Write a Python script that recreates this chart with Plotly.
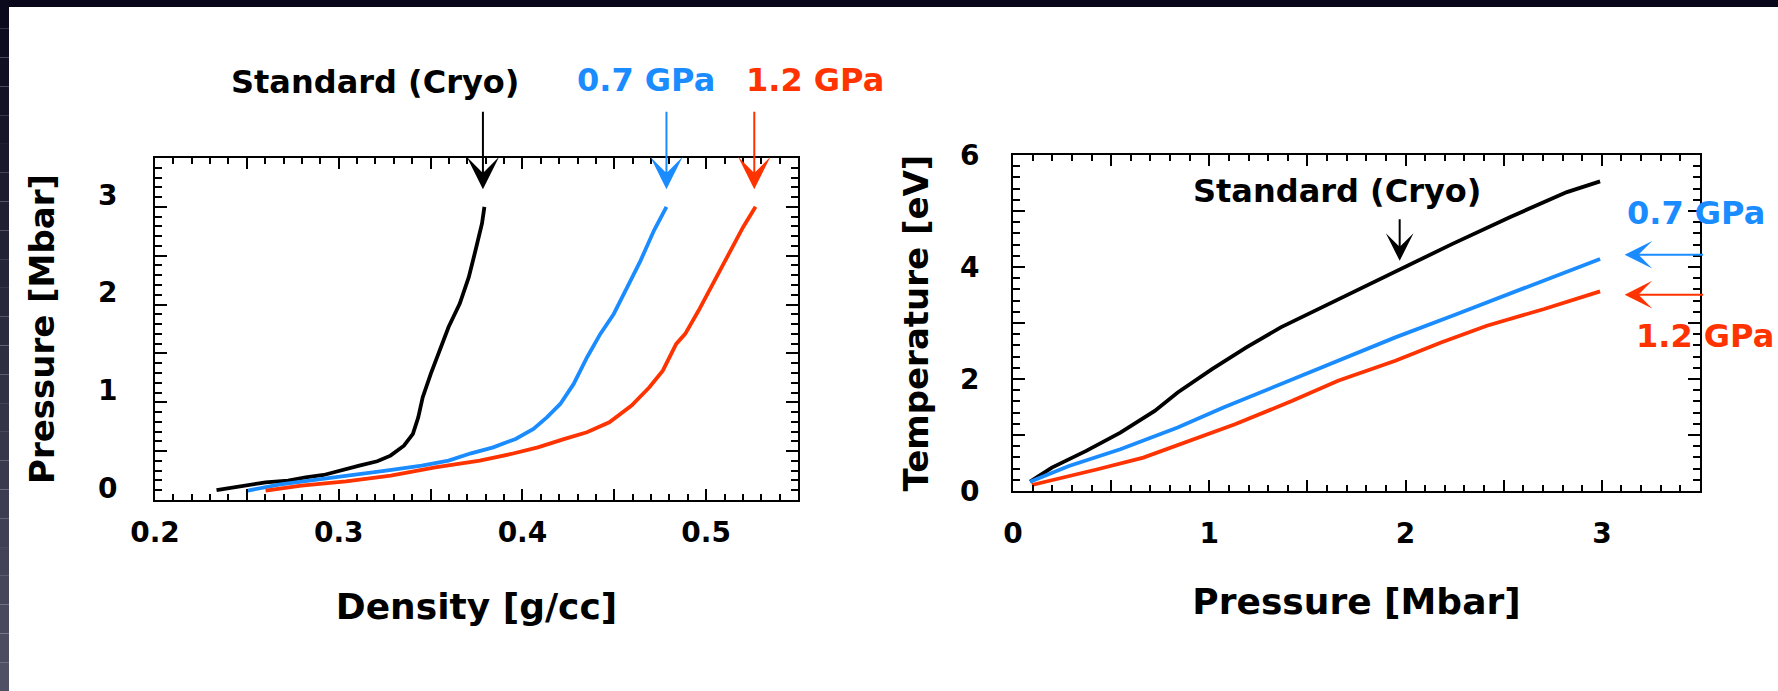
import plotly.graph_objects as go

# ---------------- data ----------------
# Left panel: Pressure [Mbar] vs Density [g/cc]
rho_std = [0.2335, 0.2602, 0.2724, 0.2820, 0.2918, 0.3015, 0.3112, 0.3210, 0.3282, 0.3355,
           0.3404, 0.3433, 0.3457, 0.3501, 0.3550, 0.3598, 0.3659, 0.3708, 0.3744, 0.3780, 0.3793]
p_std = [0.102, 0.181, 0.198, 0.232, 0.256, 0.307, 0.352, 0.396, 0.454, 0.556,
         0.676, 0.846, 1.050, 1.290, 1.530, 1.770, 2.010, 2.280, 2.550, 2.830, 3.000]

rho_07 = [0.2505, 0.2675, 0.2870, 0.3064, 0.3258, 0.3452, 0.3598, 0.3720, 0.3841, 0.3963, 0.4060,
          0.4133, 0.4206, 0.4279, 0.4352, 0.4424, 0.4497, 0.4570, 0.4643, 0.4716, 0.4784]
p_07 = [0.096, 0.157, 0.205, 0.249, 0.300, 0.352, 0.403, 0.478, 0.539, 0.625, 0.727,
        0.846, 0.983, 1.188, 1.461, 1.700, 1.904, 2.177, 2.450, 2.758, 3.000]

rho_12 = [0.2602, 0.2797, 0.3040, 0.3283, 0.3525, 0.3768, 0.3938, 0.4084, 0.4230, 0.4351, 0.4473,
          0.4594, 0.4691, 0.4764, 0.4837, 0.4886, 0.4959, 0.5056, 0.5129, 0.5201, 0.5269]
p_12 = [0.096, 0.147, 0.191, 0.249, 0.334, 0.403, 0.471, 0.539, 0.625, 0.693, 0.795,
        0.966, 1.154, 1.324, 1.597, 1.700, 1.939, 2.280, 2.519, 2.792, 3.000]

# Right panel: Temperature [eV] vs Pressure [Mbar]
pr_std = [0.087, 0.198, 0.373, 0.547, 0.722, 0.839, 1.014, 1.189, 1.364, 1.539, 1.743, 1.977,
          2.239, 2.531, 2.822, 2.991]
t_std = [0.167, 0.417, 0.716, 1.043, 1.431, 1.759, 2.177, 2.564, 2.922, 3.220, 3.578, 3.966,
         4.413, 4.890, 5.337, 5.528]

pr_07 = [0.087, 0.285, 0.547, 0.839, 1.072, 1.364, 1.656, 1.948, 2.239, 2.531, 2.822, 2.991]
t_07 = [0.167, 0.447, 0.745, 1.133, 1.491, 1.908, 2.326, 2.743, 3.131, 3.518, 3.906, 4.144]

pr_12 = [0.096, 0.256, 0.431, 0.664, 0.898, 1.131, 1.423, 1.656, 1.948, 2.181, 2.414, 2.706, 2.991]
t_12 = [0.107, 0.239, 0.388, 0.596, 0.894, 1.192, 1.610, 1.968, 2.326, 2.653, 2.952, 3.250, 3.565]

left_x_ticks = [0.2, 0.25, 0.3, 0.35, 0.4, 0.45, 0.5, 0.55]
left_x_text = ["0.2", "", "0.3", "", "0.4", "", "0.5", ""]
left_y_ticks = [0, 0.5, 1, 1.5, 2, 2.5, 3, 3.5]
left_y_text = ["0", "", "1", "", "2", "", "3", ""]
right_x_ticks = [0, 0.5, 1, 1.5, 2, 2.5, 3, 3.5]
right_x_text = ["0", "", "1", "", "2", "", "3", ""]
right_y_ticks = [0, 1, 2, 3, 4, 5, 6]
right_y_text = ["0", "", "2", "", "4", "", "6"]

series_names = ["Standard (Cryo)", "0.7 GPa", "1.2 GPa"]

# ---------------- style ----------------
BLACK = "#000000"
BLUE = "#1a8cff"
RED = "#ff3300"
FONT = "DejaVu Sans"
W, H = 1778, 691

fig = go.Figure()

for xs, ys, c, n in [(rho_std, p_std, BLACK, series_names[0]),
                     (rho_07, p_07, BLUE, series_names[1]),
                     (rho_12, p_12, RED, series_names[2])]:
    fig.add_trace(go.Scatter(x=xs, y=ys, mode="lines", name=n, showlegend=False,
                             line=dict(color=c, width=3.8), xaxis="x", yaxis="y"))

for xs, ys, c, n in [(pr_std, t_std, BLACK, series_names[0]),
                     (pr_07, t_07, BLUE, series_names[1]),
                     (pr_12, t_12, RED, series_names[2])]:
    fig.add_trace(go.Scatter(x=xs, y=ys, mode="lines", name=n, showlegend=False,
                             line=dict(color=c, width=3.8), xaxis="x2", yaxis="y2"))

tickfont = dict(family=FONT, size=28, color=BLACK, weight="bold")


def axis_common(major_len):
    return dict(showline=True, linecolor=BLACK, linewidth=2, mirror="allticks",
                ticks="inside", ticklen=major_len, tickwidth=2, tickcolor=BLACK,
                showgrid=False, zeroline=False, tickfont=tickfont, tickmode="array",
                automargin=False)


fig.update_layout(
    template="none",
    width=W, height=H,
    margin=dict(l=0, r=0, t=0, b=0, pad=0, autoexpand=False),
    paper_bgcolor="white", plot_bgcolor="white",
    xaxis=dict(domain=[155 / W, 798 / W], range=[0.2, 0.55], anchor="y",
               tickvals=left_x_ticks, ticktext=left_x_text, ticklabelstandoff=6,
               minor=dict(tickmode="linear", tick0=0.2, dtick=0.01, ticklen=6, tickwidth=2,
                          tickcolor=BLACK, ticks="inside"),
               title=dict(text="Density [g/cc]", standoff=46,
                          font=dict(family=FONT, size=36, color=BLACK, weight="bold")),
               **axis_common(11)),
    yaxis=dict(domain=[1 - 500 / H, 1 - 158 / H], range=[0, 3.5], anchor="x",
               tickvals=left_y_ticks, ticktext=left_y_text, ticklabelstandoff=30,
               ticklabelshift=-12,
               minor=dict(tickmode="linear", tick0=0, dtick=0.1, ticklen=7, tickwidth=2,
                          tickcolor=BLACK, ticks="inside"),
               title=dict(text="Pressure [Mbar]", standoff=33,
                          font=dict(family=FONT, size=34, color=BLACK, weight="bold")),
               **axis_common(12)),
    xaxis2=dict(domain=[1013 / W, 1700 / W], range=[0, 3.5], anchor="y2",
                tickvals=right_x_ticks, ticktext=right_x_text, ticklabelstandoff=16,
                minor=dict(tickmode="linear", tick0=0, dtick=0.1, ticklen=6, tickwidth=2,
                           tickcolor=BLACK, ticks="inside"),
                title=dict(text="Pressure [Mbar]", standoff=40,
                           font=dict(family=FONT, size=36, color=BLACK, weight="bold")),
                **axis_common(11)),
    yaxis2=dict(domain=[1 - 491 / H, 1 - 155 / H], range=[0, 6], anchor="x2",
                tickvals=right_y_ticks, ticktext=right_y_text, ticklabelstandoff=26,
                minor=dict(tickmode="linear", tick0=0, dtick=0.2, ticklen=7, tickwidth=2,
                           tickcolor=BLACK, ticks="inside"),
                title=dict(text="Temperature [eV]", standoff=21,
                           font=dict(family=FONT, size=34, color=BLACK, weight="bold")),
                **axis_common(12)),
)

# ---------------- slide border (dark frame at top and left) ----------------
shapes = [dict(type="rect", xref="paper", yref="paper", x0=0, x1=1, y0=1 - 7 / H, y1=1,
               fillcolor="#08081a", line=dict(width=0), layer="above")]
nb = 24
for i in range(nb):
    f = i / (nb - 1)
    r = int(10 + f * (80 - 10))
    g = int(10 + f * (80 - 10))
    b = int(28 + f * (100 - 28))
    shapes.append(dict(type="rect", xref="paper", yref="paper", x0=0, x1=9 / W,
                       y0=1 - (i + 1) / nb, y1=1 - i / nb,
                       fillcolor=f"rgb({r},{g},{b})", line=dict(width=0), layer="above"))
fig.update_layout(shapes=shapes)

# ---------------- annotations ----------------
afont = lambda c: dict(family=FONT, size=32, color=c, weight="bold")
anns = [
    # left panel labels
    dict(text=series_names[0], x=375 / W, y=1 - 82 / H, font=afont(BLACK)),
    dict(text=series_names[1], x=646 / W, y=1 - 80 / H, font=afont(BLUE)),
    dict(text=series_names[2], x=815 / W, y=1 - 80 / H, font=afont(RED)),
    # right panel labels
    dict(text=series_names[0], x=1337 / W, y=1 - 191 / H, font=afont(BLACK)),
    dict(text=series_names[1], x=1696 / W, y=1 - 213 / H, font=afont(BLUE)),
    dict(text=series_names[2], x=1705 / W, y=1 - 336 / H, font=afont(RED)),
]
for a in anns:
    a.update(xref="paper", yref="paper", showarrow=False, xanchor="center", yanchor="middle")

arrows = [
    dict(x=rho_std[-1] - 0.0008, y=3.18, ax=0, ay=-79, xref="x", yref="y", arrowcolor=BLACK, arrowsize=2.7),
    dict(x=rho_07[-1], y=3.18, ax=0, ay=-79, xref="x", yref="y", arrowcolor=BLUE, arrowsize=2.7),
    dict(x=rho_12[-1] - 0.0007, y=3.18, ax=0, ay=-79, xref="x", yref="y", arrowcolor=RED, arrowsize=2.7),
    dict(x=1.97, y=4.11, ax=0, ay=-43, xref="x2", yref="y2", arrowcolor=BLACK, arrowsize=2.3),
    dict(x=3.116, y=4.22, ax=80, ay=0, xref="x2", yref="y2", arrowcolor=BLUE, arrowsize=2.3),
    dict(x=3.116, y=3.506, ax=80, ay=0, xref="x2", yref="y2", arrowcolor=RED, arrowsize=2.3),
]
for a in arrows:
    a.update(text="", showarrow=True, arrowhead=3, arrowwidth=2, standoff=0, startstandoff=0)

fig.update_layout(annotations=anns + arrows)

fig.write_html(
    "out.html",
    config={"displayModeBar": False},
    post_script="document.body.style.margin='0';document.body.style.overflow='hidden';",
)
